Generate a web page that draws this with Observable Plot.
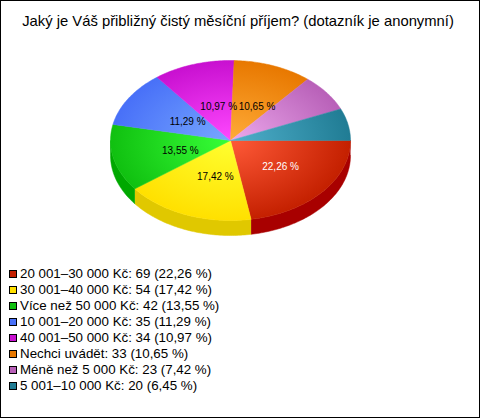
<!DOCTYPE html>
<html lang="cs">
<head>
<meta charset="utf-8">
<script src="https://cdn.jsdelivr.net/npm/d3@7"></script>
<script src="https://cdn.jsdelivr.net/npm/@observablehq/plot@0.6"></script>
<style>
html,body{margin:0;padding:0;background:#fff;}
#frame{position:relative;box-sizing:border-box;width:480px;height:418px;border:1px solid #000;overflow:hidden;font-family:"Liberation Sans",Arial,sans-serif;color:#000;}
#title{height:39px;padding:12px 4px 0 0;box-sizing:border-box;text-align:center;font-size:14.8px;line-height:16px;white-space:nowrap;}
#chart svg{display:block;}
#legend{position:absolute;left:8px;top:265px;font-size:13.33px;line-height:16px;white-space:nowrap;}
#legend .row{display:flex;align-items:center;height:16px;}
#legend .sw{width:6px;height:6px;border:1px solid #000;margin-right:3px;flex:none;}
</style>
</head>
<body>
<div id="frame">
  <div id="title"></div>
  <div id="chart"></div>
  <div id="legend"></div>
</div>
<script>
const titleText = "Jaký je Váš přibližný čistý měsíční příjem? (dotazník je anonymní)";
const categories = ["20 001–30 000 Kč","30 001–40 000 Kč","Více než 50 000 Kč","10 001–20 000 Kč","40 001–50 000 Kč","Nechci uvádět","Méně než 5 000 Kč","5 001–10 000 Kč"];
const counts = [69,54,42,35,34,33,23,20];
const shares = ["22,26","17,42","13,55","11,29","10,97","10,65","7,42","6,45"];
const edgeColors = ["#c42000","#ffe000","#10c010","#4870f8","#c810d0","#e87800","#b860b8","#207c94"];
const centerColors = ["#ff5a38","#ffff30","#38ff38","#78a8ff","#ff48ff","#ffac38","#eca8ec","#50b0cc"];
const wallColors = ["#a80000","#e0c800","#00a800","#3050c0","#a000a8","#c06000","#904890","#105c70"];
const labelColors = ["#fff","#000","#000","#000","#000","#000","#000","#000"];
const minLabelShare = 10;

document.getElementById("title").textContent = titleText;

const total = d3.sum(counts);
const depth = 15 / 80;
let acc = 0;
const slices = counts.map((c, i) => {
  const a0 = acc / total * 2 * Math.PI;
  acc += c;
  const a1 = acc / total * 2 * Math.PI;
  return {i, a0, a1, mid: (a0 + a1) / 2};
});
const arcPts = (a0, a1) => {
  const n = Math.max(2, Math.ceil((a1 - a0) / (Math.PI / 180)));
  return d3.range(n + 1).map(k => {
    const a = a0 + (a1 - a0) * k / n;
    return {x: Math.cos(a), y: Math.sin(a)};
  });
};
const topPts = s => [{x: 0, y: 0}, ...arcPts(s.a0, s.a1), {x: 0, y: 0}];
const wallPts = s => {
  const a1 = Math.min(s.a1, Math.PI);
  if (s.a0 >= a1) return null;
  const rim = arcPts(s.a0, a1);
  return [...rim, ...rim.slice().reverse().map(p => ({x: p.x, y: p.y + depth}))];
};
const labelled = slices.filter(s => counts[s.i] / total * 100 >= minLabelShare).map(s => ({
  x: 0.48 * Math.cos(s.mid) + 0.05,
  y: 0.47 * Math.sin(s.mid) + 0.02,
  text: shares[s.i] + " %",
  color: labelColors[s.i]
}));

const plot = Plot.plot({
  width: 478,
  height: 225,
  margin: 0,
  x: {domain: [-1, 1], range: [109, 349], axis: null},
  y: {domain: [-1, 1], range: [20, 180], axis: null},
  marks: [
    ...slices.filter(wallPts).map(s => Plot.line(wallPts(s), {x: "x", y: "y", fill: wallColors[s.i], stroke: wallColors[s.i], strokeWidth: 0.5})),
    ...slices.map(s => Plot.line(topPts(s), {x: "x", y: "y", fill: `url(#g${s.i})`, stroke: `url(#g${s.i})`, strokeWidth: 0.5})),
    Plot.text(labelled, {x: "x", y: "y", text: "text", fill: "color", fontSize: 10, fontFamily: "Liberation Sans"})
  ]
});
const cx = plot.scale("x").apply(0), cy = plot.scale("y").apply(0);
const rx = plot.scale("x").apply(1) - cx, ry = plot.scale("y").apply(1) - cy;
const defs = d3.select(plot).insert("defs", ":first-child");
slices.forEach(s => {
  const g = defs.append("radialGradient").attr("id", `g${s.i}`).attr("gradientUnits", "userSpaceOnUse")
    .attr("cx", 0).attr("cy", 0).attr("r", 1)
    .attr("gradientTransform", `translate(${cx},${cy}) scale(${rx},${ry})`);
  g.append("stop").attr("offset", 0).attr("stop-color", centerColors[s.i]);
  g.append("stop").attr("offset", 1).attr("stop-color", edgeColors[s.i]);
});
document.getElementById("chart").append(plot);

const legend = d3.select("#legend");
categories.forEach((c, i) => {
  const row = legend.append("div").attr("class", "row");
  row.append("span").attr("class", "sw").style("background", edgeColors[i]);
  row.append("span").text(`${c}: ${counts[i]} (${shares[i]} %)`);
});
</script>
</body>
</html>
